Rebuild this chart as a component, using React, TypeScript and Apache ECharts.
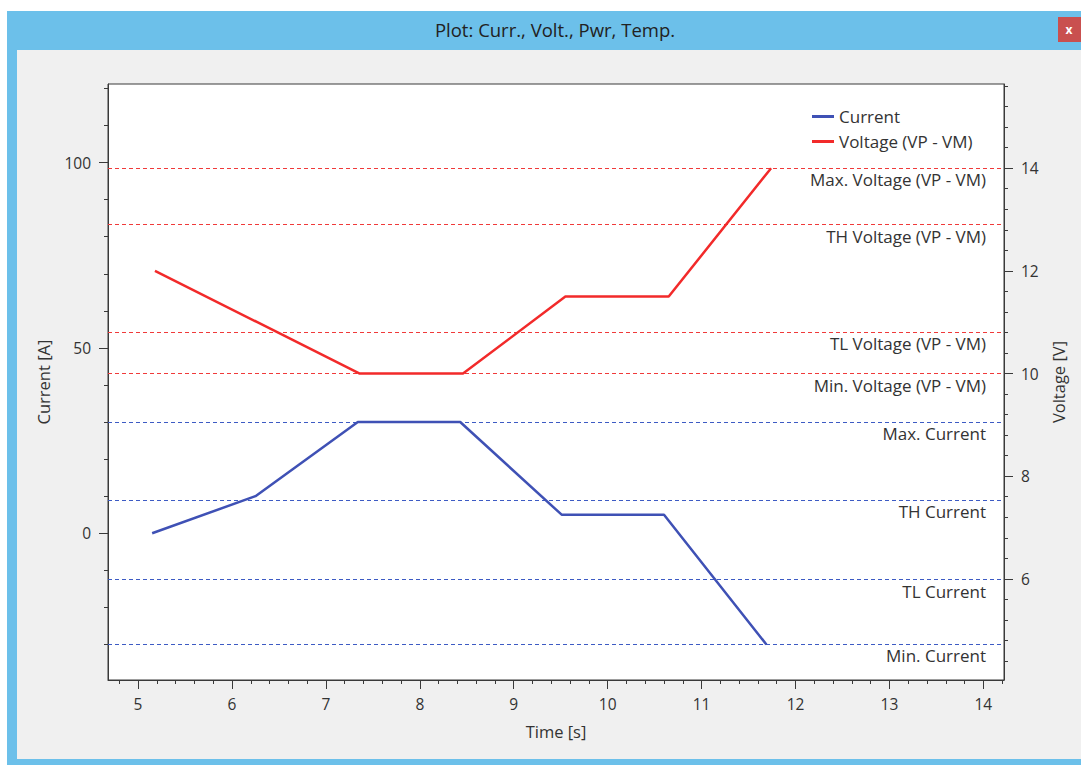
import React, { useEffect, useRef } from "react";
import * as echarts from "echarts";

// ---- data ----
const timeCurrent = [5.15, 6.25, 7.34, 8.43, 9.51, 10.6, 11.69];
const current = [0, 10, 30, 30, 5, 5, -30];
const timeVoltage = [5.18, 6.27, 7.36, 8.46, 9.55, 10.65, 11.74];
const voltage = [12, 11, 10, 10, 11.5, 11.5, 14];

const currentLimitNames = ["Max. Current", "TH Current", "TL Current", "Min. Current"];
const currentLimits = [30, 9, -12.5, -30];
const voltageLimitNames = [
  "Max. Voltage (VP - VM)",
  "TH Voltage (VP - VM)",
  "TL Voltage (VP - VM)",
  "Min. Voltage (VP - VM)",
];
const voltageLimits = [14, 12.9, 10.8, 10];

const timeTicks = [5, 6, 7, 8, 9, 10, 11, 12, 13, 14];
const currentTicks = [0, 50, 100];
const voltageTicks = [6, 8, 10, 12, 14];

const timeRange = [4.68, 14.22];
const currentRange = [-39.6, 121.2];
const voltageRange = [4.03, 15.64];

function steps(from: number, to: number, step: number) {
  const out: number[] = [];
  for (let v = from; v <= to + 1e-9; v += step) out.push(Math.round(v * 100) / 100);
  return out;
}
const timeMinor = steps(4.8, 14.2, 0.2);
const currentMinor = steps(-30, 120, 10);
const voltageMinor = steps(4.4, 15.6, 0.4);

const FONT = "'Open Sans', 'Noto Sans', sans-serif";
const TEXT = "#333333";
const AXIS = "#3a3a3a";
const BLUE = "#3f51b5";
const RED = "#f22a2a";
const CHROME = "#6cc0ea";

export default function App() {
  const ref = useRef<HTMLDivElement>(null);

  useEffect(() => {
    if (!ref.current) return;
    const chart = echarts.init(ref.current, undefined, { renderer: "svg" });

    const axisLine = { show: true, onZero: false, lineStyle: { color: AXIS, width: 1 } };
    const tickStyle = { color: TEXT, fontSize: 15.5, fontFamily: FONT };
    const nameStyle = { color: TEXT, fontSize: 16.5, fontFamily: FONT };

    const mk = (names: string[], vals: number[], color: string) => ({
      silent: true,
      symbol: "none",
      animation: false,
      lineStyle: { color, type: [4, 3], width: 1 },
      label: {
        show: true,
        position: "insideEndBottom",
        distance: [18, 3],
        color: TEXT,
        fontSize: 17,
        fontFamily: FONT,
        formatter: (p: any) => p.name,
      },
      data: vals.map((v, i) => ({ name: names[i], yAxis: v })),
    });

    chart.setOption({
      animation: false,
      title: {
        text: "Plot: Curr., Volt., Pwr, Temp.",
        left: 550,
        textAlign: "center",
        top: 15,
        textStyle: { color: "#222", fontSize: 18.5, fontWeight: "normal", fontFamily: FONT },
      },
      graphic: [
        {
          type: "text",
          x: 1069,
          y: 29,
          style: { text: "x", fill: "#fff", fontSize: 12, fontWeight: "bold", fontFamily: FONT, align: "center", verticalAlign: "middle" },
        },
      ],
      legend: {
        orient: "vertical",
        left: 812,
        top: 108,
        padding: 0,
        itemGap: 8,
        itemWidth: 22,
        itemHeight: 3,
        icon: "rect",
        textStyle: { color: TEXT, fontSize: 17, fontFamily: FONT, lineHeight: 17 },
        data: ["Current", "Voltage (VP - VM)"],
      },
      grid: {
        left: 108,
        top: 84,
        width: 896,
        height: 596,
        show: true,
        backgroundColor: "#ffffff",
        borderColor: AXIS,
        borderWidth: 1,
      },
      xAxis: [
        {
          type: "value",
          min: timeRange[0],
          max: timeRange[1],
          position: "bottom",
          name: "Time [s]",
          nameLocation: "middle",
          nameGap: 43,
          nameTextStyle: nameStyle,
          axisLine,
          axisTick: { show: true, customValues: timeTicks, length: 9, lineStyle: { color: AXIS } },
          axisLabel: { ...tickStyle, customValues: timeTicks, margin: 16 },
          splitLine: { show: false },
        },
        {
          type: "value",
          min: timeRange[0],
          max: timeRange[1],
          position: "bottom",
          offset: 0,
          axisLine: { show: false, onZero: false },
          axisTick: { show: true, customValues: timeMinor, length: 4, lineStyle: { color: AXIS } },
          axisLabel: { show: false },
          splitLine: { show: false },
        },
      ],
      yAxis: [
        {
          type: "value",
          min: currentRange[0],
          max: currentRange[1],
          position: "left",
          name: "Current [A]",
          nameLocation: "middle",
          nameGap: 56,
          nameTextStyle: nameStyle,
          axisLine,
          axisTick: { show: true, customValues: currentTicks, length: 9, lineStyle: { color: AXIS } },
          axisLabel: { ...tickStyle, customValues: currentTicks, margin: 17 },
          splitLine: { show: false },
        },
        {
          type: "value",
          min: voltageRange[0],
          max: voltageRange[1],
          position: "right",
          name: "Voltage [V]",
          nameLocation: "middle",
          nameGap: 43,
          nameTextStyle: nameStyle,
          axisLine,
          axisTick: { show: true, customValues: voltageTicks, length: 9, lineStyle: { color: AXIS } },
          axisLabel: { ...tickStyle, customValues: voltageTicks, margin: 17 },
          splitLine: { show: false },
        },
        {
          type: "value",
          min: currentRange[0],
          max: currentRange[1],
          position: "left",
          offset: 0,
          axisLine: { show: false, onZero: false },
          axisTick: { show: true, customValues: currentMinor, length: 4, lineStyle: { color: AXIS } },
          axisLabel: { show: false },
          splitLine: { show: false },
        },
        {
          type: "value",
          min: voltageRange[0],
          max: voltageRange[1],
          position: "right",
          offset: 0,
          axisLine: { show: false, onZero: false },
          axisTick: { show: true, customValues: voltageMinor, length: 4, lineStyle: { color: AXIS } },
          axisLabel: { show: false },
          splitLine: { show: false },
        },
      ],
      series: [
        {
          name: "Current",
          type: "line",
          xAxisIndex: 0,
          yAxisIndex: 0,
          symbol: "none",
          color: BLUE,
          lineStyle: { color: BLUE, width: 2.5 },
          data: timeCurrent.map((t, i) => [t, current[i]]),
          markLine: mk(currentLimitNames, currentLimits, "#3d5bc4"),
          z: 5,
        },
        {
          name: "Voltage (VP - VM)",
          type: "line",
          xAxisIndex: 0,
          yAxisIndex: 1,
          symbol: "none",
          color: RED,
          lineStyle: { color: RED, width: 2.5 },
          data: timeVoltage.map((t, i) => [t, voltage[i]]),
          markLine: mk(voltageLimitNames, voltageLimits, "#f03a3a"),
          z: 5,
        },
      ],
    });

    return () => chart.dispose();
  }, []);

  const abs = (l: number, t: number, w: number, h: number, bg: string): React.CSSProperties => ({
    position: "absolute",
    left: l,
    top: t,
    width: w,
    height: h,
    background: bg,
  });

  return (
    <div style={{ position: "absolute", left: 0, top: 0, width: 1081, height: 765, background: "#ffffff", overflow: "hidden" }}>
      <div style={abs(7, 11, 1074, 39, CHROME)} />
      <div style={abs(7, 11, 10, 754, CHROME)} />
      <div style={abs(7, 759, 1074, 6, CHROME)} />
      <div style={abs(17, 50, 1064, 709, "#f0f0f0")} />
      <div style={abs(1058, 17, 23, 25, "#c9504f")} />
      <div ref={ref} style={{ position: "absolute", left: 0, top: 0, width: 1081, height: 765 }} />
    </div>
  );
}
